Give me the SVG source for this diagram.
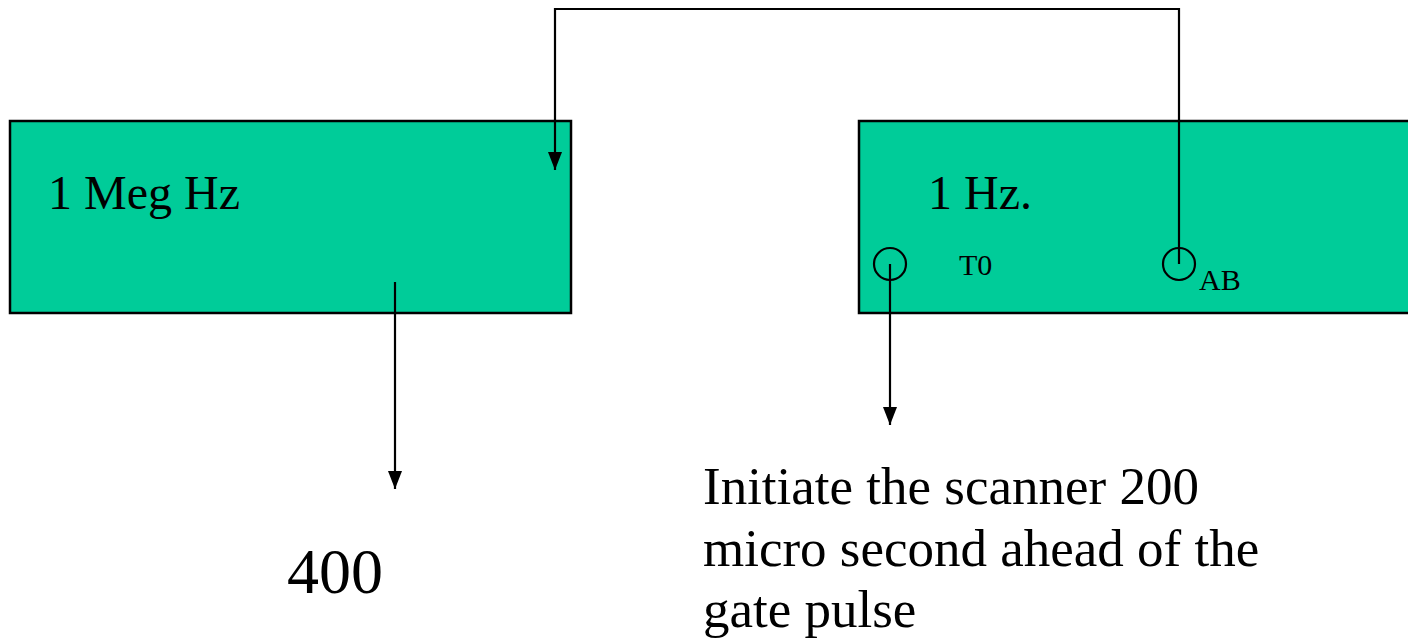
<svg xmlns="http://www.w3.org/2000/svg" width="1408" height="642" viewBox="0 0 1408 642">
<style>
.box{fill:#00cc99;stroke:#000;stroke-width:2.5}
.t{font-family:"Liberation Serif",serif;fill:#000}
.ln{fill:none;stroke:#000;stroke-width:2.2}
</style>
<defs>
<marker id="ah" markerWidth="18" markerHeight="14" refX="18" refY="7" orient="auto" markerUnits="userSpaceOnUse" viewBox="0 0 18 14">
<path d="M0,0 L18,7 L0,14 Z" fill="#000"/>
</marker>
</defs>
<rect width="1408" height="642" fill="#fff"/>
<g id="node-1mhz">
<rect class="box" x="10" y="121" width="561" height="192"/>
<text class="t" x="48" y="209" font-size="48">1 Meg Hz</text>
</g>
<g id="node-1hz">
<rect class="box" x="859" y="121" width="560" height="192"/>
<text class="t" x="928" y="209" font-size="48">1 Hz.</text>
<circle class="ln" cx="890" cy="264" r="16"/>
<text class="t" x="959" y="275" font-size="30">T0</text>
<circle class="ln" cx="1179" cy="264" r="16"/>
<text class="t" x="1199" y="290" font-size="30">AB</text>
</g>
<g id="label-400">
<text class="t" x="287" y="593" font-size="64">400</text>
</g>
<g id="label-initiate">
<text class="t" font-size="53"><tspan x="703" y="504">Initiate the scanner 200</tspan><tspan x="703" y="566">micro second ahead of the</tspan><tspan x="703" y="627">gate pulse</tspan></text>
</g>
<g id="connectors">
<path class="ln" d="M1179,264 V9 H555 V170" marker-end="url(#ah)"/>
<path class="ln" d="M395,282 V489" marker-end="url(#ah)"/>
<path class="ln" d="M890,264 V425" marker-end="url(#ah)"/>
</g>
</svg>
